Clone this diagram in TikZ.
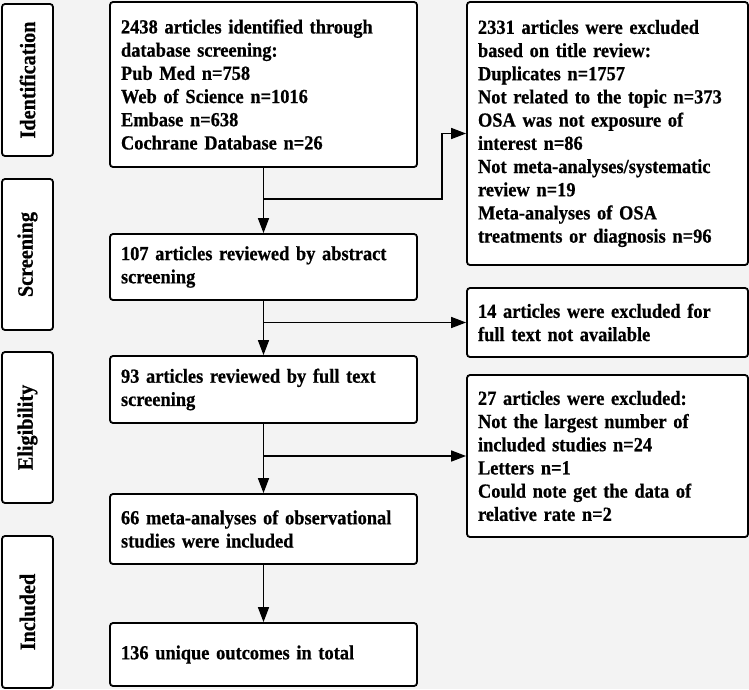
\documentclass[tikz,border=0pt]{standalone}
\usepackage{fontspec}
\setmainfont{Liberation Serif}[FakeStretch=0.92, BoldFeatures={FakeBold=0.6}]
\usetikzlibrary{arrows.meta}
\definecolor{bgcol}{HTML}{F3F3F3}
\begin{document}
\begin{tikzpicture}[x=1pt, y=-1pt, >={Triangle[length=15pt,width=11pt]},
		box/.style={draw, line width=1.8pt, rounded corners=3pt, fill=white, align=left,
			inner xsep=11pt, font=\fontsize{20}{23.2}\selectfont\bfseries},
		phase/.style={draw, line width=1.8pt, rounded corners=3pt, fill=white, rotate=90,
			minimum height=51pt, font=\fontsize{22}{24}\selectfont\bfseries},
		conn/.style={line width=1.5pt}]
		\fill[bgcol] (0,0) rectangle (749,689);
		\useasboundingbox (0,0) rectangle (749,689);
		% phases
		\node[phase, minimum width=152pt] (pid) at (27.5,80) {Identification};
		\node[phase, minimum width=151pt] (psc) at (27.5,254.5) {Screening};
		\node[phase, minimum width=151pt] (pel) at (27.5,427.5) {Eligibility};
		\node[phase, minimum width=152pt] (pin) at (27.5,612) {Included};
		% main column
		\node[box, text width=285pt, minimum height=165pt] (id) at (263.5,84.5)
			{2438 articles identified through\\database screening:\\Pub Med n=758\\
			Web of Science n=1016\\Embase n=638\\Cochrane Database n=26};
		\node[box, text width=285pt, minimum height=66pt] (sc) at (263.5,267)
			{107 articles reviewed by abstract\\screening};
		\node[box, text width=285pt, minimum height=67pt] (el) at (263.5,389.5)
			{93 articles reviewed by full text\\screening};
		\node[box, text width=285pt, minimum height=70pt] (inc) at (263.5,529)
			{66 meta-analyses of observational\\studies were included};
		\node[box, text width=285pt, minimum height=63pt] (tot) at (263.5,654.5)
			{136 unique outcomes in total};
		% exclusions
		\node[box, text width=259pt, minimum height=263pt] (ex1) at (607.5,133.5)
			{2331 articles were excluded\\based on title review:\\Duplicates n=1757\\
			Not related to the topic n=373\\OSA was not exposure of\\interest n=86\\
			Not meta-analyses/systematic\\review n=19\\Meta-analyses of OSA\\
			treatments or diagnosis n=96};
		\node[box, text width=259pt, minimum height=69pt] (ex2) at (607.5,322.5)
			{14 articles were excluded for\\full text not available};
		\node[box, text width=259pt, minimum height=162pt] (ex3) at (607.5,456)
			{27 articles were excluded:\\Not the largest number of\\included studies n=24\\
			Letters n=1\\Could note get the data of\\relative rate n=2};
		% connectors
		\draw[conn, ->] (id) -- (sc);
		\draw[conn, ->] (sc) -- (el);
		\draw[conn, ->] (el) -- (inc);
		\draw[conn, ->] (inc) -- (tot);
		\coordinate (b1) at (263.5,199);
		\coordinate (b2) at (sc.south |- ex2.west);
		\coordinate (b3) at (el.south |- ex3.west);
		\draw[conn, ->] (b1) -- ++(178.5,0) |- (ex1.west);
		\draw[conn, ->] (b2) -- (ex2.west);
		\draw[conn, ->] (b3) -- (ex3.west);
\end{tikzpicture}
\end{document}
